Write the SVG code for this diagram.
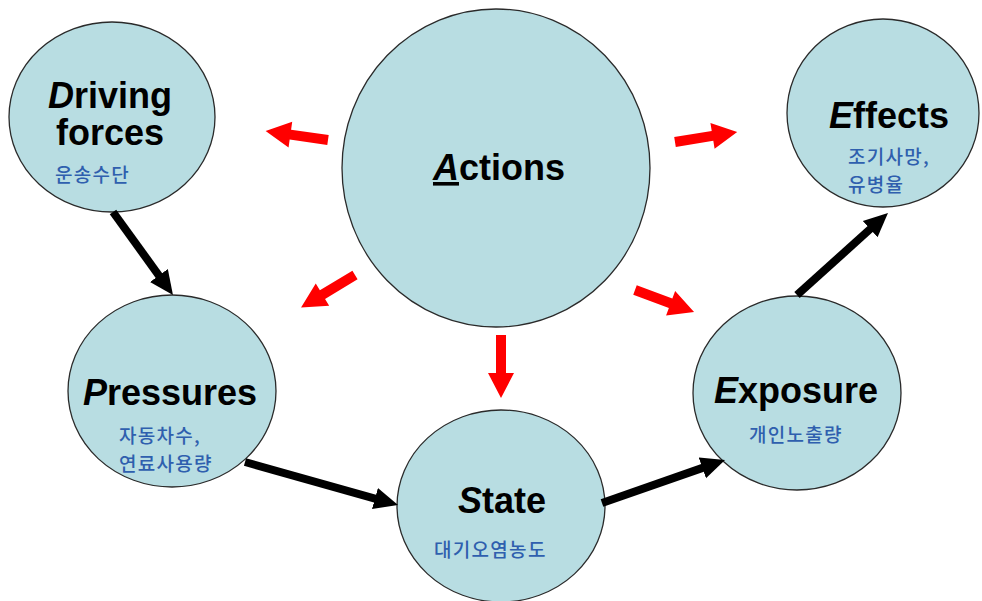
<svg xmlns="http://www.w3.org/2000/svg" width="982" height="601" viewBox="0 0 982 601">
<style>
.node{fill:#b8dde2;stroke:#2a2a2a;stroke-width:1.3}
.t{font-family:"Liberation Sans",Arial,sans-serif;font-weight:bold;font-size:36px;fill:#000;text-anchor:middle}
.k{font-family:"Noto Sans CJK KR",sans-serif;font-size:19px;letter-spacing:1.3px;font-weight:500;fill:#2f5fae}
.blk{stroke:#000;stroke-width:8;fill:none;marker-end:url(#head)}
.red{fill:#ff0000}
</style>
<defs>
<marker id="head" markerUnits="userSpaceOnUse" markerWidth="25" markerHeight="24" viewBox="0 -12 25 24" refX="1" refY="0" orient="auto">
<path d="M0,-11 L24,0 L0,11 Z" fill="#000"/>
</marker>
<path id="redArrow" d="M0,-5 L38,-5 L38,-13 L63,0 L38,13 L38,5 L0,5 Z"/>
</defs>
<rect width="982" height="601" fill="#fff"/>
<g id="driving">
<ellipse class="node" cx="112" cy="117" rx="103" ry="95"/>
<text class="t" x="110" y="108"><tspan font-style="italic">D</tspan>riving</text>
<text class="t" x="110" y="145">forces</text>
<text class="k" x="55" y="182">운송수단</text>
</g>
<g id="actions">
<ellipse class="node" cx="496" cy="168" rx="154" ry="159"/>
<text class="t" x="499" y="180"><tspan font-style="italic" text-decoration="underline">A</tspan>ctions</text>
</g>
<g id="effects">
<ellipse class="node" cx="883" cy="113" rx="96" ry="94"/>
<text class="t" x="889" y="128"><tspan font-style="italic">E</tspan>ffects</text>
<text class="k" x="848" y="164">조기사망,</text>
<text class="k" x="848" y="192">유병율</text>
</g>
<g id="pressures">
<ellipse class="node" cx="172" cy="391" rx="104" ry="96"/>
<text class="t" x="170" y="405"><tspan font-style="italic">P</tspan>ressures</text>
<text class="k" x="119" y="443">자동차수,</text>
<text class="k" x="119" y="471">연료사용량</text>
</g>
<g id="state">
<ellipse class="node" cx="501" cy="506" rx="104" ry="96"/>
<text class="t" x="502" y="513"><tspan font-style="italic">S</tspan>tate</text>
<text class="k" x="434" y="557">대기오염농도</text>
</g>
<g id="exposure">
<ellipse class="node" cx="797" cy="393" rx="104" ry="97"/>
<text class="t" x="796" y="403"><tspan font-style="italic">E</tspan>xposure</text>
<text class="k" x="749" y="442">개인노출량</text>
</g>
<g id="connectors">
<line class="blk" x1="113" y1="212" x2="159.5" y2="276.3"/>
<line class="blk" x1="245" y1="462" x2="375.9" y2="498.8"/>
<line class="blk" x1="602" y1="503" x2="703.3" y2="467.6"/>
<line class="blk" x1="797" y1="295" x2="870.9" y2="228.4"/>
<use href="#redArrow" class="red" transform="translate(328,140) rotate(188.1)"/>
<use href="#redArrow" class="red" transform="translate(355,275) rotate(148.9)"/>
<use href="#redArrow" class="red" transform="translate(675,142) rotate(-9.2)"/>
<use href="#redArrow" class="red" transform="translate(635,290) rotate(20.4)"/>
<use href="#redArrow" class="red" transform="translate(501,335) rotate(90)"/>
</g>
</svg>
